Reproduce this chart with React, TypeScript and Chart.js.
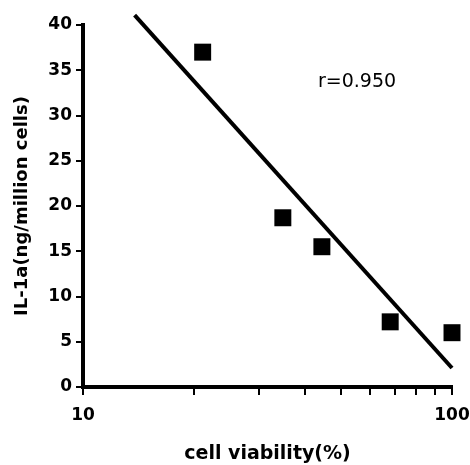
import React, { useEffect, useRef } from "react";
import { Chart, registerables } from "chart.js";

Chart.register(...registerables);

const viability = [21.1, 34.8, 44.4, 68, 100];
const il1a = [37.0, 18.7, 15.5, 7.2, 6.0];
const fitX = [13.8, 100];
const fitY = [41.1, 2.1];
const xTicks = [10, 20, 30, 40, 50, 60, 70, 80, 90, 100];
const xTickLabels = [10, 100];
const yTicks = [0, 5, 10, 15, 20, 25, 30, 35, 40];
const rLabel = "r=0.950";
const rLabelPos = { x: 55.3, y: 33.7 };

const FONT = "'DejaVu Sans', 'Liberation Sans', Arial, sans-serif";

export default function App() {
  const ref = useRef<HTMLCanvasElement | null>(null);
  useEffect(() => {
    if (!ref.current) return;
    const labelPlugin = {
      id: "rlabel",
      afterDatasetsDraw(chart: any) {
        const { ctx, scales } = chart;
        const px = scales.x.getPixelForValue(rLabelPos.x);
        const py = scales.y.getPixelForValue(rLabelPos.y);
        ctx.save();
        ctx.fillStyle = "#000";
        ctx.font = `19px ${FONT}`;
        ctx.textAlign = "center";
        ctx.textBaseline = "middle";
        ctx.fillText(rLabel, px, py);
        ctx.restore();
      },
    };
    const chart = new Chart(ref.current, {
      type: "scatter",
      data: {
        datasets: [
          {
            data: fitX.map((x, i) => ({ x, y: fitY[i] })),
            showLine: true,
            borderColor: "#000",
            borderWidth: 4,
            pointRadius: 0,
            clip: false as any,
          },
          {
            data: viability.map((x, i) => ({ x, y: il1a[i] })),
            pointStyle: "rect",
            pointRadius: 12,
            backgroundColor: "#000",
            borderColor: "#000",
            borderWidth: 0,
            clip: false as any,
          },
        ],
      },
      options: {
        animation: false,
        responsive: false,
        layout: { padding: { top: 25, right: 18, left: 0, bottom: 0 } },
        plugins: { legend: { display: false }, tooltip: { enabled: false } },
        scales: {
          x: {
            type: "logarithmic",
            min: 10,
            max: 100,
            afterFit(scale: any) {
              scale.height = 78;
              scale.paddingLeft = 0;
              scale.paddingRight = 0;
            },
            afterBuildTicks(scale: any) {
              scale.ticks = xTicks.map((v) => ({ value: v }));
            },
            border: { display: true, color: "#000", width: 4 },
            grid: {
              drawOnChartArea: false,
              drawTicks: true,
              tickLength: 8,
              color: "#000",
              lineWidth: 2,
            },
            ticks: {
              autoSkip: false,
              maxRotation: 0,
              color: "#000",
              font: { family: FONT, size: 17, weight: "bold" },
              padding: 10,
              callback: (v: any) =>
                xTickLabels.includes(Number(v)) ? String(v) : "",
            },
            title: {
              display: true,
              text: "cell viability(%)",
              color: "#000",
              font: { family: FONT, size: 19, weight: "bold" },
              padding: { top: 2, bottom: 0 },
            },
          },
          y: {
            min: 0,
            max: 40,
            afterFit(scale: any) {
              scale.width = 83;
              scale.paddingTop = 0;
              scale.paddingBottom = 0;
            },
            afterBuildTicks(scale: any) {
              scale.ticks = yTicks.map((v) => ({ value: v }));
            },
            border: { display: true, color: "#000", width: 4 },
            grid: {
              drawOnChartArea: false,
              drawTicks: true,
              tickLength: 7,
              color: "#000",
              lineWidth: 2,
            },
            ticks: {
              color: "#000",
              font: { family: FONT, size: 17, weight: "bold" },
              padding: 4,
            },
            title: {
              display: true,
              text: "IL-1a(ng/million cells)",
              color: "#000",
              font: { family: FONT, size: 18, weight: "bold" },
              padding: { top: 12, bottom: 4 },
            },
          },
        },
      },
      plugins: [labelPlugin],
    } as any);
    return () => chart.destroy();
  }, []);
  return (
    <div style={{ position: "absolute", left: 0, top: 0, width: 470, height: 465, background: "#fff" }}>
      <canvas ref={ref} width={470} height={465} />
    </div>
  );
}
